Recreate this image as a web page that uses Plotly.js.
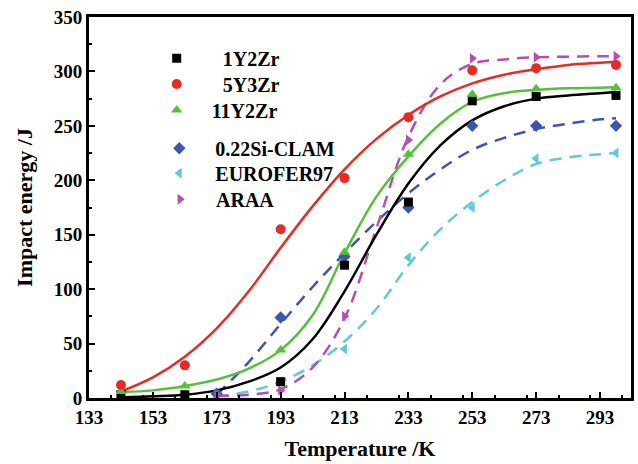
<!DOCTYPE html>
<html>
<head>
<meta charset="utf-8">
<script src="https://cdn.plot.ly/plotly-3.0.1.min.js"></script>
<style>html,body{margin:0;padding:0;background:#fff;}#chart{width:638px;height:464px;}</style>
</head>
<body>
<div id="chart"></div>
<script>
// Measured points
const tempA = [143, 163, 193, 213, 233, 253, 273, 298];
const y1Y2Zr = [3, 3, 15, 122, 180, 273, 277, 278];
const y5Y3Zr = [12, 30, 155, 202, 258, 301, 303, 306];
const y11Y2Zr = [6, 11, 44, 134, 224, 279, 284, 285];
const tempB = [173, 193, 213, 233, 253, 273, 298];
const yCLAM = [4, 74, 130, 175, 250, 250, 250];
const yEURO = [1, 15, 45, 129, 175, 220, 225];
const yARAA = [3, 7, 75, 237, 312, 313, 314];

// Fitted curves
const fitTempA = [143, 153, 163, 173, 183, 193, 203, 213, 223, 233, 243, 253, 263, 273, 283, 293, 298];
const fit1Y2Zr = [0.5, 1.5, 3, 7, 15, 28, 54, 98, 150, 197, 232, 255, 268, 275, 278, 280, 281];
const fit5Y3Zr = [6, 19, 38, 64, 98, 138, 176, 210, 238, 260, 277, 289, 297, 302, 306, 308, 309];
const fit11Y2Zr = [5.5, 7, 11, 17, 27, 44, 76, 133, 185, 222, 252, 272, 280, 283, 284.5, 285, 285.5];
const fitTempB = [173, 183, 193, 203, 213, 223, 233, 243, 253, 263, 273, 283, 293, 298];
const fitCLAM = [3, 33, 68, 102, 133, 162, 188, 210, 228, 239, 247, 252, 256, 257];
const fitEURO = [1.5, 6, 15, 30, 52, 82, 122, 155, 180, 200, 215, 221, 224, 225];
const fitARAA = [2, 3, 8, 28, 73, 156, 240, 288, 307, 311, 313, 313.5, 314, 314];

const names = ['1Y2Zr', '5Y3Zr', '11Y2Zr', '0.22Si-CLAM', 'EUROFER97', 'ARAA'];
const colors = ['#000000', '#e62b24', '#55c03a', '#3c55b2', '#60c7de', '#b64db3'];

const serif = 'Liberation Serif, Times New Roman, serif';

function lineTrace(x, y, color, dash) {
  return {x: x, y: y, type: 'scatter', mode: 'lines', showlegend: false, hoverinfo: 'skip',
    line: {color: color, width: 2.5, dash: dash, shape: 'spline', smoothing: 1}};
}
function markTrace(x, y, i, symbol, size, legendId) {
  return {x: x, y: y, type: 'scatter', mode: 'markers', name: names[i], legend: legendId,
    marker: {color: colors[i], symbol: symbol, size: size, line: {width: 0}}};
}

const data = [
  lineTrace(fitTempB, fitEURO, colors[4], '12px,8px'),
  lineTrace(fitTempB, fitCLAM, colors[3], '12px,8px'),
  lineTrace(fitTempB, fitARAA, colors[5], '12px,8px'),
  lineTrace(fitTempA, fit1Y2Zr, colors[0], 'solid'),
  lineTrace(fitTempA, fit11Y2Zr, colors[2], 'solid'),
  lineTrace(fitTempA, fit5Y3Zr, colors[1], 'solid'),
  markTrace(tempB, yEURO, 4, 'triangle-left', 9.5, 'legend5'),
  markTrace(tempB, yCLAM, 3, 'diamond', 9.5, 'legend4'),
  markTrace(tempB, yARAA, 5, 'triangle-right', 9.5, 'legend6'),
  markTrace(tempA, y1Y2Zr, 0, 'square', 9, 'legend'),
  markTrace(tempA, y11Y2Zr, 2, 'triangle-up', 10, 'legend3'),
  markTrace(tempA, y5Y3Zr, 1, 'circle', 10, 'legend2')
];

// plot area in pixels: left 89, right 631, top 17, bottom 398
function leg(xpx, ypx, w) {
  return {x: (xpx - 89) / 542, y: (398 - ypx) / 381, xref: 'paper', yref: 'paper',
    xanchor: 'left', yanchor: 'middle', itemwidth: w, bgcolor: 'rgba(0,0,0,0)', borderwidth: 0,
    font: {family: serif, size: 20, color: '#000', weight: 'bold'}};
}

const axisCommon = {
  showline: true, mirror: true, linecolor: '#000', linewidth: 3,
  ticks: 'inside', ticklen: 6, tickwidth: 2, tickcolor: '#000',
  showgrid: false, zeroline: false,
  tickfont: {family: serif, size: 19, color: '#000', weight: 'bold'}
};

const layout = {
  width: 638, height: 464,
  margin: {l: 89, r: 7, t: 17, b: 66},
  paper_bgcolor: '#fff', plot_bgcolor: '#fff',
  xaxis: Object.assign({}, axisCommon, {
    range: [133, 302.7], tick0: 133, dtick: 20,
    minor: {dtick: 10, ticks: 'inside', ticklen: 3, tickwidth: 2, tickcolor: '#000'},
    title: {text: 'Temperature /K', font: {family: serif, size: 22, color: '#000', weight: 'bold'}, standoff: 14}
  }),
  yaxis: Object.assign({}, axisCommon, {
    range: [0, 350], tick0: 0, dtick: 50,
    minor: {dtick: 25, ticks: 'inside', ticklen: 3, tickwidth: 2, tickcolor: '#000'},
    title: {text: 'Impact energy /J', font: {family: serif, size: 22, color: '#000', weight: 'bold'}, standoff: 16}
  }),
  legend: leg(176.7 - 46, 58.3, 82),
  legend2: leg(176.7 - 46, 84, 82),
  legend3: leg(176.7 - 35, 110, 60),
  legend4: leg(179.3 - 36, 148.3, 62),
  legend5: leg(179.3 - 36, 173.3, 62),
  legend6: leg(180 - 36, 199.3, 62)
};

Plotly.newPlot('chart', data, layout, {displayModeBar: false, staticPlot: true});
</script>
</body>
</html>
